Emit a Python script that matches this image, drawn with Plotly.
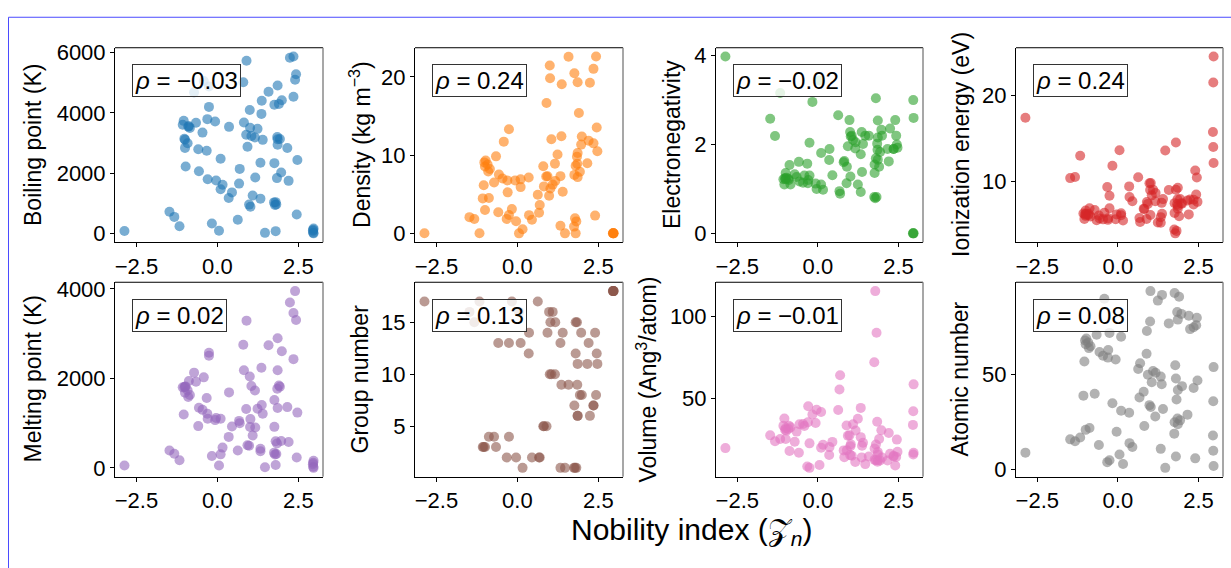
import plotly.graph_objects as go

# ---------------- data ----------------
elements = ["H","He","Li","Be","B","C","N","O","F","Ne","Na","Mg","Al","Si","P","S","Cl","Ar","K","Ca",
            "Sc","Ti","V","Cr","Mn","Fe","Co","Ni","Cu","Zn","Ga","Ge","As","Se","Br","Kr","Rb","Sr","Y","Zr",
            "Nb","Mo","Tc","Ru","Rh","Pd","Ag","Cd","In","Sn","Sb","Te","I","Xe","Cs","Ba","La","Ce","Pr","Nd",
            "Pm","Sm","Eu","Gd","Tb","Dy","Ho","Er","Tm","Yb","Lu","Hf","Ta","W","Re","Os","Ir","Pt","Au","Hg",
            "Tl","Pb","Bi","Ac","Th","Pa","U","Np","Pu"]

nobility = [1.47, 2.97, 0.16, -0.33, -0.26, 2.40, 1.80, 0.05, -2.87, 2.96,
            1.33, 0.45, -0.59, 0.36, -1.33, -1.48, -1.17, 2.95, 1.75, -0.04,
            -1.00, -0.88, 0.82, 1.86, 1.76, 1.93, 1.85, 1.16, 2.16, 0.35,
            0.10, 1.40, 1.02, 0.98, -0.17, 2.96, 1.82, 0.67, -1.07, -0.72,
            0.80, 1.86, 2.35, 1.99, 1.36, 1.05, 2.47, 1.80, 1.33, 0.93,
            1.17, 1.09, 0.63, 2.97, 1.78, 0.69, -1.04, -0.07, -0.31, -0.46,
            0.89, -0.57, -0.30, -0.90, -0.85, -1.00, -0.92, -1.02, -0.98, 0.10,
            -0.66, -0.26, 0.90, 2.24, 2.35, 2.43, 1.58, 1.00, 1.86, 2.45,
            2.20, 1.97, 1.84, 1.24, -0.42, 1.90, 1.37, 1.76, 1.01]

boiling_point = [20.3, 4.2, 1615, 2743, 4200, 5100, 77.4, 90.2, 85.0, 27.1,
                 1156, 1363, 2792, 3538, 550, 718, 239, 87.3, 1032, 1757,
                 3109, 3560, 3680, 2944, 2334, 3134, 3200, 3186, 2835, 1180,
                 2477, 3106, 887, 958, 332, 119.9, 961, 1655, 3609, 4682,
                 5017, 4912, 4538, 4423, 3968, 3236, 2435, 1040, 2345, 2875,
                 1860, 1261, 457, 165, 944, 2143, 3737, 3716, 3793, 3347,
                 3273, 2067, 1802, 3546, 3503, 2840, 2993, 3141, 2223, 1469,
                 3675, 4876, 5731, 5828, 5869, 5285, 4701, 4098, 3129, 630,
                 1746, 2022, 1837, 3471, 5061, 4300, 4404, 4273, 3505]

density = [0.00009, 0.00018, 0.534, 1.85, 2.34, 2.267, 0.00125, 0.00143, 0.0017, 0.0009,
           0.971, 1.738, 2.70, 2.33, 1.823, 2.07, 0.0032, 0.00178, 0.862, 1.54,
           2.99, 4.51, 6.0, 7.19, 7.47, 7.87, 8.90, 8.91, 8.96, 7.13,
           5.91, 5.32, 5.73, 4.81, 3.10, 0.00375, 1.53, 2.64, 4.47, 6.51,
           8.57, 10.28, 11.5, 12.37, 12.41, 12.02, 10.49, 8.65, 7.31, 7.29,
           6.68, 6.23, 4.93, 0.0059, 1.93, 3.62, 6.15, 6.77, 6.77, 7.01,
           7.26, 7.52, 5.24, 7.90, 8.23, 8.55, 8.80, 9.07, 9.32, 6.90,
           9.84, 13.31, 16.65, 19.25, 21.02, 22.59, 22.56, 21.45, 19.30, 13.53,
           11.85, 11.34, 9.78, 10.07, 11.72, 15.37, 19.05, 20.45, 19.82]

electronegativity = [2.20, 0, 0.98, 1.57, 2.04, 2.55, 3.04, 3.44, 3.98, 0,
                     0.93, 1.31, 1.61, 1.90, 2.19, 2.58, 3.16, 0, 0.82, 1.00,
                     1.36, 1.54, 1.63, 1.66, 1.55, 1.83, 1.88, 1.91, 1.90, 1.65,
                     1.81, 2.01, 2.18, 2.55, 2.96, 3.00, 0.82, 0.95, 1.22, 1.33,
                     1.60, 2.16, 1.90, 2.20, 2.28, 2.20, 1.93, 1.69, 1.78, 1.96,
                     2.05, 2.10, 2.66, 2.60, 0.79, 0.89, 1.10, 1.12, 1.13, 1.14,
                     1.13, 1.17, 1.20, 1.20, 1.10, 1.22, 1.23, 1.24, 1.25, 1.10,
                     1.27, 1.30, 1.50, 2.36, 1.90, 2.20, 2.20, 2.28, 2.54, 2.00,
                     1.62, 2.33, 2.02, 1.10, 1.30, 1.50, 1.38, 1.36, 1.28]

ionization_energy = [13.60, 24.59, 5.39, 9.32, 8.30, 11.26, 14.53, 13.62, 17.42, 21.56,
                     5.14, 7.65, 5.99, 8.15, 10.49, 10.36, 12.97, 15.76, 4.34, 6.11,
                     6.56, 6.83, 6.75, 6.77, 7.43, 7.90, 7.88, 7.64, 7.73, 9.39,
                     6.00, 7.90, 9.79, 9.75, 11.81, 14.00, 4.18, 5.69, 6.22, 6.63,
                     6.76, 7.09, 7.28, 7.36, 7.46, 8.34, 7.58, 8.99, 5.79, 7.34,
                     8.61, 9.01, 10.45, 12.13, 3.89, 5.21, 5.58, 5.54, 5.47, 5.53,
                     5.58, 5.64, 5.67, 6.15, 5.86, 5.94, 6.02, 6.11, 6.18, 6.25,
                     5.43, 6.83, 7.55, 7.86, 7.83, 8.44, 8.97, 8.96, 9.23, 10.44,
                     6.11, 7.42, 7.29, 5.17, 6.31, 5.89, 6.19, 6.27, 6.03]

melting_point = [14.0, 0.95, 453.7, 1560, 2573, 3950, 63.2, 54.4, 53.5, 24.6,
                 370.9, 923, 933.5, 1687, 317.3, 388.4, 171.6, 83.8, 336.5, 1115,
                 1814, 1941, 2183, 2180, 1519, 1811, 1768, 1728, 1357.8, 692.7,
                 302.9, 1211.4, 1090, 494, 265.8, 115.8, 312.5, 1050, 1799, 2128,
                 2750, 2896, 2430, 2607, 2237, 1828, 1234.9, 594.2, 429.7, 505.1,
                 903.8, 722.7, 386.9, 161.4, 301.6, 1000, 1193, 1068, 1208, 1297,
                 1315, 1345, 1099, 1585, 1629, 1680, 1734, 1802, 1818, 1097,
                 1925, 2506, 3290, 3695, 3459, 3306, 2739, 2041.4, 1337.3, 234.3,
                 577, 600.6, 544.4, 1323, 2023, 1841, 1405.3, 917, 912.5]

group_number = [1, 18, 1, 2, 13, 14, 15, 16, 17, 18,
                1, 2, 13, 14, 15, 16, 17, 18, 1, 2,
                3, 4, 5, 6, 7, 8, 9, 10, 11, 12,
                13, 14, 15, 16, 17, 18, 1, 2, 3, 4,
                5, 6, 7, 8, 9, 10, 11, 12, 13, 14,
                15, 16, 17, 18, 1, 2, 3, None, None, None,
                None, None, None, None, None, None, None, None, None, None,
                3, 4, 5, 6, 7, 8, 9, 10, 11, 12,
                13, 14, 15, None, None, None, None, None, None]

volume = [9.6, 16.5, 21.5, 8.1, 7.3, 8.8, 12.0, 9.0, 19.4, 15.5,
          44.0, 23.2, 16.6, 20.0, 23.6, 27.2, 25.0, 33.6, 72.0, 42.9,
          25.0, 17.6, 13.8, 12.0, 12.2, 11.8, 11.0, 10.9, 11.8, 15.2,
          19.6, 22.7, 21.7, 27.2, 40.0, 42.0, 90.0, 55.3, 33.0, 23.3,
          18.0, 15.5, 14.2, 13.6, 13.7, 14.7, 17.1, 21.6, 26.1, 27.0,
          30.2, 34.0, 42.7, 58.4, 115.5, 64.0, 37.5, 34.8, 35.2, 34.2,
          33.2, 34.0, 45.0, 33.1, 32.1, 31.6, 31.1, 30.6, 30.1, 41.5,
          29.5, 22.3, 18.1, 15.9, 14.7, 14.0, 14.2, 15.1, 17.0, 24.6,
          28.6, 30.3, 35.5, 37.4, 32.9, 25.0, 20.8, 19.2, 20.5]

atomic_number = [1, 2, 3, 4, 5, 6, 7, 8, 9, 10,
                 11, 12, 13, 14, 15, 16, 17, 18, 19, 20,
                 21, 22, 23, 24, 25, 26, 27, 28, 29, 30,
                 31, 32, 33, 34, 35, 36, 37, 38, 39, 40,
                 41, 42, 43, 44, 45, 46, 47, 48, 49, 50,
                 51, 52, 53, 54, 55, 56, 57, 58, 59, 60,
                 61, 62, 63, 64, 65, 66, 67, 68, 69, 70,
                 71, 72, 73, 74, 75, 76, 77, 78, 79, 80,
                 81, 82, 83, 89, 90, 91, 92, 93, 94]

y_titles = ["Boiling point (K)", "Density (kg m<sup>−3</sup>)", "Electronegativity", "Ionization energy (eV)",
            "Melting point (K)", "Group number", "Volume (Ang<sup>3</sup>/atom)", "Atomic number"]
rho_labels = ["−0.03", "0.24", "−0.02", "0.24", "0.02", "0.13", "−0.01", "0.08"]
y_ticks = [[0, 2000, 4000, 6000], [0, 10, 20], [0, 2, 4], [10, 20],
           [0, 2000, 4000], [5, 10, 15], [50, 100], [0, 50]]
x_ticks = [-2.5, 0.0, 2.5]
x_ticktext = ["−2.5", "0.0", "2.5"]

# ---------------- styling / layout ----------------
W, H = 1231, 568
colors = ["#1f77b4", "#ff7f0e", "#2ca02c", "#d62728", "#9467bd", "#8c564b", "#e377c2", "#7f7f7f"]
col_px = [(115, 323), (415, 623), (716, 923), (1016, 1223)]
row_px = [(41.7, 240.7), (281.7, 480.7)]
ytitle_x = [33, 360, 672, 961, 33, 360, 647, 960]
FONT = "Liberation Sans, Arial, Helvetica, sans-serif"
TICK_SIZE = 22
LABEL_SIZE = 23

series = [boiling_point, density, electronegativity, ionization_energy,
          melting_point, group_number, volume, atomic_number]

fig = go.Figure()
layout = dict(width=W, height=H, margin=dict(l=0, r=0, t=0, b=0),
              paper_bgcolor="white", plot_bgcolor="white", showlegend=False,
              font=dict(family=FONT, color="black"))
annotations = []
shapes = []

xmin, xmax = min(nobility), max(nobility)
xpad = 0.05 * (xmax - xmin)

for i, vals in enumerate(series):
    r, c = divmod(i, 4)
    n = i + 1
    xs = [x for x, v in zip(nobility, vals) if v is not None]
    ys = [v for v in vals if v is not None]
    xa = "x" if n == 1 else f"x{n}"
    ya = "y" if n == 1 else f"y{n}"
    fig.add_trace(go.Scatter(x=xs, y=ys, mode="markers", xaxis=xa, yaxis=ya,
                             marker=dict(size=10, color=colors[i], opacity=0.6, line=dict(width=0)),
                             hoverinfo="skip"))
    ymin, ymax = min(ys), max(ys)
    ypad = 0.05 * (ymax - ymin)
    x0, x1 = col_px[c]
    t, b = row_px[r]
    xkey = "xaxis" if n == 1 else f"xaxis{n}"
    ykey = "yaxis" if n == 1 else f"yaxis{n}"
    layout[xkey] = dict(domain=[x0 / W, x1 / W], anchor=ya, range=[xmin - xpad, xmax + xpad],
                        tickvals=x_ticks, ticktext=x_ticktext, ticks="outside", ticklen=4,
                        tickwidth=1, tickcolor="black", showline=True, linecolor="black",
                        linewidth=1, mirror=False, showgrid=False, zeroline=False,
                        tickfont=dict(size=TICK_SIZE, family=FONT, color="black"))
    layout[ykey] = dict(domain=[1 - b / H, 1 - t / H], anchor=xa, range=[ymin - ypad, ymax + ypad],
                        tickvals=y_ticks[i], ticktext=[str(v) for v in y_ticks[i]],
                        ticks="outside", ticklen=4, tickwidth=1, tickcolor="black",
                        showline=True, linecolor="black", linewidth=1, mirror=False,
                        showgrid=False, zeroline=False,
                        tickfont=dict(size=TICK_SIZE, family=FONT, color="black"))
    # top (black) and right (grey) spines
    shapes.append(dict(type="line", xref=f"{xa} domain", yref=f"{ya} domain",
                       x0=0, x1=1, y0=1, y1=1, line=dict(color="black", width=1)))
    shapes.append(dict(type="line", xref=f"{xa} domain", yref=f"{ya} domain",
                       x0=1, x1=1, y0=0, y1=1, line=dict(color="#8a8a8a", width=1.5)))
    # correlation box
    annotations.append(dict(xref=f"{xa} domain", yref=f"{ya} domain", x=0.082, y=0.915,
                            xanchor="left", yanchor="top", showarrow=False,
                            text=f"<i>ρ</i> = {rho_labels[i]}",
                            font=dict(size=24, family=FONT, color="black"),
                            bordercolor="#333333", borderwidth=1, borderpad=2,
                            bgcolor="rgba(255,255,255,0.8)"))
    # y axis title
    annotations.append(dict(xref="paper", yref="paper", x=ytitle_x[i] / W, y=1 - (t + b) / 2 / H,
                            xanchor="center", yanchor="middle", showarrow=False, textangle=-90,
                            text=y_titles[i], font=dict(size=LABEL_SIZE, family=FONT, color="black")))

# common x label
annotations.append(dict(xref="paper", yref="paper", x=691 / W, y=1 - 537 / H,
                        xanchor="center", yanchor="middle", showarrow=False,
                        text="Nobility index (𝒵<sub><i>n</i></sub>)",
                        font=dict(size=30, family=FONT, color="black")))

# thin blue page frame (left and top edges)
shapes.append(dict(type="line", xref="paper", yref="paper", x0=8.5 / W, x1=8.5 / W, y0=-0.2, y1=1 - 10.5 / H,
                   line=dict(color="#4b4bff", width=1)))
shapes.append(dict(type="line", xref="paper", yref="paper", x0=8.5 / W, x1=1.2, y0=1 - 10.5 / H, y1=1 - 10.5 / H,
                   line=dict(color="#4b4bff", width=1)))

layout["annotations"] = annotations
layout["shapes"] = shapes
fig.update_layout(**layout)
fig.write_html("out.html")
